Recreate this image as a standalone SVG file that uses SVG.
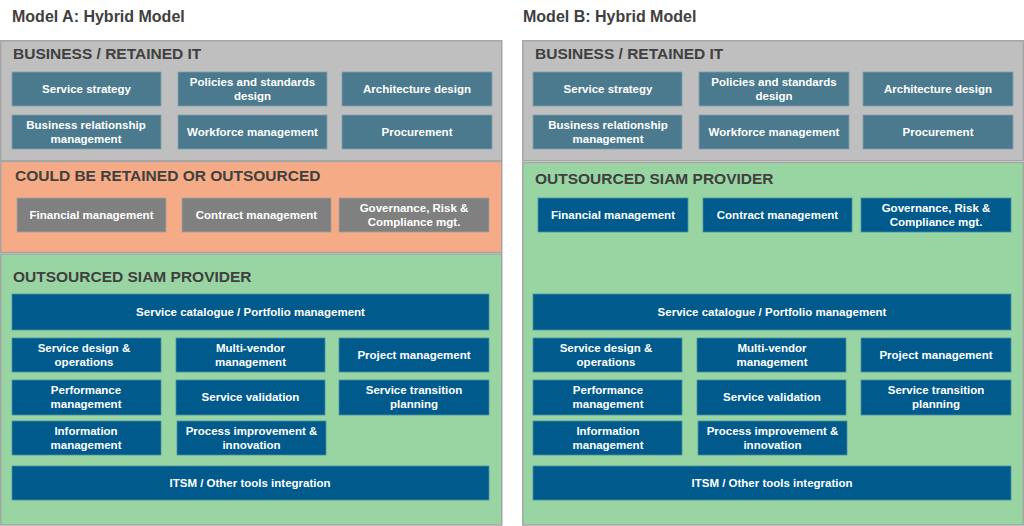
<svg xmlns="http://www.w3.org/2000/svg" width="1024" height="526" viewBox="0 0 1024 526">
<style>
.title{font-family:"Liberation Sans",Arial,sans-serif;font-weight:bold;font-size:16px;fill:#404040}
.hdr{font-family:"Liberation Sans",Arial,sans-serif;font-weight:bold;font-size:15.5px;fill:#404040}
.bt{font-family:"Liberation Sans",Arial,sans-serif;font-weight:bold;font-size:11.5px;fill:#ffffff;text-anchor:middle}
.gray{fill:#bfbfbf;stroke:#a6a6a6;stroke-width:1.5}
.orange{fill:#f5ab86;stroke:#a6a6a6;stroke-width:1.5}
.green{fill:#99d5a2;stroke:#a6a6a6;stroke-width:1.5}
.steel{fill:#4b7a8e;stroke:#7fa2b0;stroke-width:0.8}
.mgray{fill:#808080;stroke:#a0a0a0;stroke-width:0.8}
.navy{fill:#005a8b;stroke:#4a8fa8;stroke-width:0.8}
</style>

<!-- ===== Model A ===== -->
<g id="modelA">
<text class="title" x="12" y="22">Model A: Hybrid Model</text>

<g id="A_business">
<rect class="gray" x="0.75" y="40.75" width="501" height="120"/>
<text class="hdr" x="13" y="58.5">BUSINESS / RETAINED IT</text>
</g>
<g id="A_service_strategy"><rect class="steel" x="12" y="72" width="149" height="34"/><text class="bt" x="86.5" y="93">Service strategy</text></g>
<g id="A_policies"><rect class="steel" x="178" y="72" width="149" height="34"/><text class="bt" x="252.5" y="86">Policies and standards</text><text class="bt" x="252.5" y="100">design</text></g>
<g id="A_architecture"><rect class="steel" x="342" y="72" width="150" height="34"/><text class="bt" x="417" y="93">Architecture design</text></g>
<g id="A_brm"><rect class="steel" x="12" y="115" width="149" height="34"/><text class="bt" x="86" y="129">Business relationship</text><text class="bt" x="86" y="143">management</text></g>
<g id="A_workforce"><rect class="steel" x="178" y="115" width="149" height="34"/><text class="bt" x="252.5" y="136">Workforce management</text></g>
<g id="A_procurement"><rect class="steel" x="342" y="115" width="150" height="34"/><text class="bt" x="417" y="136">Procurement</text></g>

<g id="A_could_be">
<rect class="orange" x="0.75" y="161.5" width="501" height="91"/>
<text class="hdr" x="15" y="181">COULD BE RETAINED OR OUTSOURCED</text>
</g>
<g id="A_financial"><rect class="mgray" x="17" y="198" width="149" height="34"/><text class="bt" x="91.5" y="219">Financial management</text></g>
<g id="A_contract"><rect class="mgray" x="182" y="198" width="149" height="34"/><text class="bt" x="256.5" y="219">Contract management</text></g>
<g id="A_governance"><rect class="mgray" x="339" y="198" width="150" height="34"/><text class="bt" x="414" y="212">Governance, Risk &amp;</text><text class="bt" x="414" y="226">Compliance mgt.</text></g>

<g id="A_siam">
<rect class="green" x="0.75" y="254" width="501" height="271"/>
<text class="hdr" x="13" y="282">OUTSOURCED SIAM PROVIDER</text>
</g>
<g id="A_catalogue"><rect class="navy" x="12" y="294" width="477" height="36"/><text class="bt" x="250.5" y="316">Service catalogue / Portfolio management</text></g>
<g id="A_design_ops"><rect class="navy" x="12" y="338" width="149" height="34"/><text class="bt" x="84" y="352">Service design &amp;</text><text class="bt" x="84" y="366">operations</text></g>
<g id="A_multivendor"><rect class="navy" x="176" y="338" width="149" height="34"/><text class="bt" x="250.5" y="352">Multi-vendor</text><text class="bt" x="250.5" y="366">management</text></g>
<g id="A_project"><rect class="navy" x="339" y="338" width="150" height="34"/><text class="bt" x="414" y="359">Project management</text></g>
<g id="A_performance"><rect class="navy" x="12" y="380" width="149" height="35"/><text class="bt" x="86" y="394">Performance</text><text class="bt" x="86" y="408">management</text></g>
<g id="A_validation"><rect class="navy" x="176" y="380" width="149" height="35"/><text class="bt" x="250.5" y="401">Service validation</text></g>
<g id="A_transition"><rect class="navy" x="339" y="380" width="150" height="35"/><text class="bt" x="414" y="394">Service transition</text><text class="bt" x="414" y="408">planning</text></g>
<g id="A_information"><rect class="navy" x="12" y="421" width="149" height="34"/><text class="bt" x="86" y="435">Information</text><text class="bt" x="86" y="449">management</text></g>
<g id="A_process"><rect class="navy" x="177" y="421" width="149" height="34"/><text class="bt" x="251.5" y="435">Process improvement &amp;</text><text class="bt" x="251.5" y="449">innovation</text></g>
<g id="A_itsm"><rect class="navy" x="12" y="466" width="477" height="34"/><text class="bt" x="250" y="487">ITSM / Other tools integration</text></g>
</g>

<!-- ===== Model B ===== -->
<g id="modelB">
<text class="title" x="523" y="22">Model B: Hybrid Model</text>

<g id="B_business">
<rect class="gray" x="522.75" y="40.75" width="500.5" height="120"/>
<text class="hdr" x="535" y="58.5">BUSINESS / RETAINED IT</text>
</g>
<g id="B_service_strategy"><rect class="steel" x="533" y="72" width="149" height="34"/><text class="bt" x="608" y="93">Service strategy</text></g>
<g id="B_policies"><rect class="steel" x="699" y="72" width="150" height="34"/><text class="bt" x="774" y="86">Policies and standards</text><text class="bt" x="774" y="100">design</text></g>
<g id="B_architecture"><rect class="steel" x="863" y="72" width="150" height="34"/><text class="bt" x="938" y="93">Architecture design</text></g>
<g id="B_brm"><rect class="steel" x="533" y="115" width="149" height="34"/><text class="bt" x="608" y="129">Business relationship</text><text class="bt" x="608" y="143">management</text></g>
<g id="B_workforce"><rect class="steel" x="699" y="115" width="150" height="34"/><text class="bt" x="774" y="136">Workforce management</text></g>
<g id="B_procurement"><rect class="steel" x="863" y="115" width="150" height="34"/><text class="bt" x="938" y="136">Procurement</text></g>

<g id="B_siam">
<rect class="green" x="522.75" y="162.5" width="500.5" height="362.5"/>
<text class="hdr" x="535" y="184">OUTSOURCED SIAM PROVIDER</text>
</g>
<g id="B_financial"><rect class="navy" x="538" y="198" width="150" height="34"/><text class="bt" x="613" y="219">Financial management</text></g>
<g id="B_contract"><rect class="navy" x="703" y="198" width="149" height="34"/><text class="bt" x="777.5" y="219">Contract management</text></g>
<g id="B_governance"><rect class="navy" x="861" y="198" width="150" height="34"/><text class="bt" x="936" y="212">Governance, Risk &amp;</text><text class="bt" x="936" y="226">Compliance mgt.</text></g>

<g id="B_catalogue"><rect class="navy" x="533" y="294" width="478" height="36"/><text class="bt" x="772" y="316">Service catalogue / Portfolio management</text></g>
<g id="B_design_ops"><rect class="navy" x="533" y="338" width="149" height="34"/><text class="bt" x="606" y="352">Service design &amp;</text><text class="bt" x="606" y="366">operations</text></g>
<g id="B_multivendor"><rect class="navy" x="697" y="338" width="149" height="34"/><text class="bt" x="772" y="352">Multi-vendor</text><text class="bt" x="772" y="366">management</text></g>
<g id="B_project"><rect class="navy" x="861" y="338" width="150" height="34"/><text class="bt" x="936" y="359">Project management</text></g>
<g id="B_performance"><rect class="navy" x="533" y="380" width="149" height="35"/><text class="bt" x="608" y="394">Performance</text><text class="bt" x="608" y="408">management</text></g>
<g id="B_validation"><rect class="navy" x="697" y="380" width="149" height="35"/><text class="bt" x="772" y="401">Service validation</text></g>
<g id="B_transition"><rect class="navy" x="861" y="380" width="150" height="35"/><text class="bt" x="936" y="394">Service transition</text><text class="bt" x="936" y="408">planning</text></g>
<g id="B_information"><rect class="navy" x="533" y="421" width="149" height="34"/><text class="bt" x="608" y="435">Information</text><text class="bt" x="608" y="449">management</text></g>
<g id="B_process"><rect class="navy" x="698" y="421" width="149" height="34"/><text class="bt" x="772.5" y="435">Process improvement &amp;</text><text class="bt" x="772.5" y="449">innovation</text></g>
<g id="B_itsm"><rect class="navy" x="533" y="466" width="478" height="34"/><text class="bt" x="772" y="487">ITSM / Other tools integration</text></g>
</g>

<g id="connectors"/>
</svg>
